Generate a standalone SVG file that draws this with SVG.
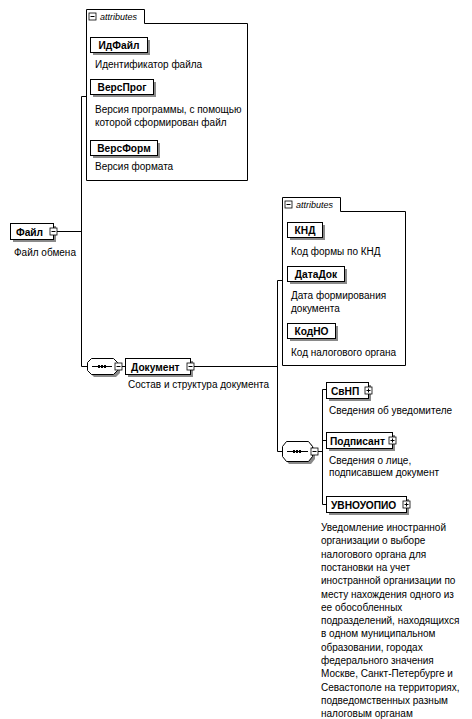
<svg xmlns="http://www.w3.org/2000/svg" width="472" height="719" viewBox="0 0 472 719">
<style>
.bg{fill:#fff}
.box{fill:#fff;stroke:#000;stroke-width:1}
.sh{fill:#8a8a8a}
.lbl{font-family:"Liberation Sans",Arial,sans-serif;font-size:10.2px;font-weight:bold;fill:#000}
.desc{font-family:"Liberation Sans",Arial,sans-serif;font-size:10px;fill:#000}
.att{font-family:"Liberation Sans",Arial,sans-serif;font-size:9px;font-style:italic;fill:#000}
.ln{stroke:#000;stroke-width:1;fill:none}
.ic{fill:#fff;stroke:#000;stroke-width:0.8}
</style>
<defs>
<g id="minus"><rect class="ic" x="0" y="0" width="7" height="7"/><path class="ln" d="M1.5,3.5H5.5" stroke-width="0.8"/></g>
<g id="plus"><rect class="ic" x="0" y="0" width="7" height="7"/><path class="ln" d="M1.5,3.5H5.5M3.5,1.5V5.5" stroke-width="0.8"/></g>
</defs>
<rect class="bg" x="0" y="0" width="472" height="719"/>

<g id="connectors">
<path class="ln" d="M57,231.5H81.5"/>
<path class="ln" d="M86,96.5H81.5V366.5H87"/>
<path class="ln" d="M122,366.5H125"/>
<path class="ln" d="M194,366.5H277.5"/>
<path class="ln" d="M282,280.5H277.5V451.5H282"/>
<path class="ln" d="M318,451.5H322.5"/>
<path class="ln" d="M326,389.5H322.5V504.5H326"/>
<path class="ln" d="M322.5,440.5H326"/>
</g>

<g id="node-fayl">
<rect class="sh" x="13" y="226" width="43" height="16"/>
<rect class="box" x="10.5" y="223.5" width="43" height="16"/>
<use href="#minus" x="50" y="228"/>
<text class="lbl" x="16" y="235.5">Файл</text>
<text class="desc" x="14" y="256">Файл обмена</text>
</g>

<g id="attributes-1">
<path class="box" d="M86.5,9.5H144.5V23.5H247.5V180.5H86.5Z"/>
<use href="#minus" x="89" y="13"/>
<text class="att" x="100" y="20">attributes</text>
<g id="node-idfayl">
<rect class="sh" x="93" y="40" width="57" height="15"/>
<rect class="box" x="90.5" y="37.5" width="57" height="15"/>
<text class="lbl" x="119" y="49" text-anchor="middle">ИдФайл</text>
<text class="desc" x="95" y="68">Идентификатор файла</text>
</g>
<g id="node-versprog">
<rect class="sh" x="93" y="82" width="63" height="15"/>
<rect class="box" x="90.5" y="79.5" width="63" height="15"/>
<text class="lbl" x="122" y="91" text-anchor="middle">ВерсПрог</text>
<text class="desc" x="95" y="113">Версия программы, с помощью</text>
<text class="desc" x="95" y="126">которой сформирован файл</text>
</g>
<g id="node-versform">
<rect class="sh" x="93" y="143" width="67" height="15"/>
<rect class="box" x="90.5" y="140.5" width="67" height="15"/>
<text class="lbl" x="124" y="152" text-anchor="middle">ВерсФорм</text>
<text class="desc" x="95" y="170">Версия формата</text>
</g>
</g>

<g id="seq-1">
<path class="sh" d="M94,361H116L120,365V373L116,377H94L90,373V365Z"/>
<path class="box" d="M91.5,358.5H113.5L117.5,362.5V370.5L113.5,374.5H91.5L87.5,370.5V362.5Z"/>
<path class="ln" d="M92,366.5H112"/>
<rect x="98" y="365" width="2" height="3" fill="#000"/>
<rect x="101" y="365" width="2" height="3" fill="#000"/>
<rect x="104" y="365" width="2" height="3" fill="#000"/>
<use href="#minus" x="115" y="363"/>
</g>

<g id="node-dokument">
<rect class="sh" x="128" y="361" width="65" height="16"/>
<rect class="box" x="125.5" y="358.5" width="65" height="16"/>
<use href="#minus" x="187" y="363"/>
<text class="lbl" x="131" y="370.5">Документ</text>
<text class="desc" x="128" y="388">Состав и структура документа</text>
</g>

<g id="attributes-2">
<path class="box" d="M282.5,197.5H340.5V211.5H405.5V365.5H282.5Z"/>
<use href="#minus" x="285" y="201"/>
<text class="att" x="296" y="208">attributes</text>
<g id="node-knd">
<rect class="sh" x="290" y="225" width="35" height="15"/>
<rect class="box" x="287.5" y="222.5" width="35" height="15"/>
<text class="lbl" x="305" y="234" text-anchor="middle">КНД</text>
<text class="desc" x="291" y="255">Код формы по КНД</text>
</g>
<g id="node-datadok">
<rect class="sh" x="290" y="269" width="57" height="15"/>
<rect class="box" x="287.5" y="266.5" width="57" height="15"/>
<text class="lbl" x="316" y="278" text-anchor="middle">ДатаДок</text>
<text class="desc" x="291" y="299">Дата формирования</text>
<text class="desc" x="291" y="312">документа</text>
</g>
<g id="node-kodno">
<rect class="sh" x="290" y="326" width="48" height="15"/>
<rect class="box" x="287.5" y="323.5" width="48" height="15"/>
<text class="lbl" x="311.5" y="335" text-anchor="middle">КодНО</text>
<text class="desc" x="291" y="356">Код налогового органа</text>
</g>
</g>

<g id="seq-2">
<path class="sh" d="M289,444H311L315,449V459L311,464H289L285,459V449Z"/>
<path class="box" d="M286.5,441.5H308.5L312.5,446.5V456.5L308.5,461.5H286.5L282.5,456.5V446.5Z"/>
<path class="ln" d="M287,451.5H308"/>
<rect x="293" y="450" width="2" height="3" fill="#000"/>
<rect x="296" y="450" width="2" height="3" fill="#000"/>
<rect x="299" y="450" width="2" height="3" fill="#000"/>
<use href="#minus" x="311" y="448"/>
</g>

<g id="node-svnp">
<rect class="sh" x="329" y="385" width="42" height="16"/>
<rect class="box" x="326.5" y="382.5" width="42" height="16"/>
<use href="#plus" x="365" y="387"/>
<text class="lbl" x="331" y="394.5">СвНП</text>
<text class="desc" x="329" y="414">Сведения об уведомителе</text>
</g>

<g id="node-podpisant">
<rect class="sh" x="329" y="435" width="66" height="16"/>
<rect class="box" x="326.5" y="432.5" width="66" height="16"/>
<use href="#plus" x="389" y="437"/>
<text class="lbl" x="330" y="444.5">Подписант</text>
<text class="desc" x="329" y="464">Сведения о лице,</text>
<text class="desc" x="329" y="476">подписавшем документ</text>
</g>

<g id="node-uvnouopio">
<rect class="sh" x="329" y="499" width="80" height="16"/>
<rect class="box" x="326.5" y="496.5" width="80" height="16"/>
<use href="#plus" x="403" y="501"/>
<text class="lbl" x="331" y="508.5">УВНОУОПИО</text>
<text class="desc" x="321" y="531">Уведомление иностранной</text>
<text class="desc" x="321" y="544.3">организации о выборе</text>
<text class="desc" x="321" y="557.6">налогового органа для</text>
<text class="desc" x="321" y="570.9">постановки на учет</text>
<text class="desc" x="321" y="584.2">иностранной организации по</text>
<text class="desc" x="321" y="597.5">месту нахождения одного из</text>
<text class="desc" x="321" y="610.8">ее обособленных</text>
<text class="desc" x="321" y="624.1">подразделений, находящихся</text>
<text class="desc" x="321" y="637.4">в одном муниципальном</text>
<text class="desc" x="321" y="650.7">образовании, городах</text>
<text class="desc" x="321" y="664">федерального значения</text>
<text class="desc" x="321" y="677.3">Москве, Санкт-Петербурге и</text>
<text class="desc" x="321" y="690.6">Севастополе на территориях,</text>
<text class="desc" x="321" y="703.9">подведомственных разным</text>
<text class="desc" x="321" y="717.2">налоговым органам</text>
</g>
</svg>
